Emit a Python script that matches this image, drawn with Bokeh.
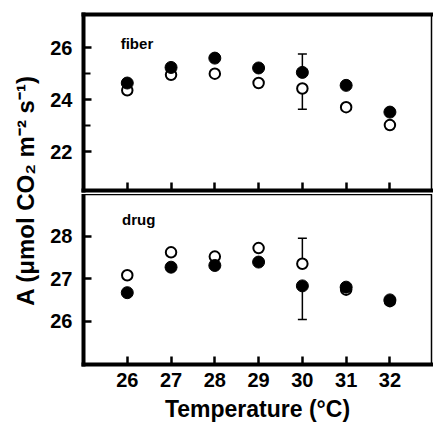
import math
from bokeh.plotting import figure
from bokeh.layouts import row, column
from bokeh.models import (Range1d, FixedTicker, LinearAxis, Label, Whisker, TeeHead,
                          ColumnDataSource, CustomLabelingPolicy)
from bokeh.embed import file_html
from bokeh.resources import INLINE

# ---- data ----
temps = [26, 27, 28, 29, 30, 31, 32]
fiber_filled = [24.64, 25.24, 25.60, 25.22, 25.05, 24.55, 23.52]
fiber_open = [24.36, 24.96, 25.00, 24.64, 24.43, 23.71, 23.02]
drug_filled = [26.67, 27.27, 27.31, 27.39, 26.83, 26.80, 26.50]
drug_open = [27.08, 27.62, 27.52, 27.72, 27.35, 26.74, 26.47]

err_temp = 30
fiber_filled_err = 0.71   # shown upward
fiber_open_err = 0.80     # shown downward
drug_open_err = 0.60      # shown upward
drug_filled_err = 0.79    # shown downward

top_yticks = [22, 24, 26]
top_yminor = [23, 25]
bot_yticks = [26, 27, 28]

x_title = "Temperature (°C)"
y_title = "A (μmol CO₂ m⁻² s⁻¹)"
panel_top_name = "fiber"
panel_bot_name = "drug"

FONT = "Liberation Sans"

x_range = Range1d(25, 32.95)


def style_axis(ax, ticker, labels=True, label_size="20px"):
    ax.ticker = ticker
    ax.axis_line_width = 4
    ax.axis_line_color = "black"
    ax.axis_line_cap = "square"
    ax.major_tick_in = 8
    ax.major_tick_out = 0
    ax.major_tick_line_width = 2.5
    ax.major_tick_line_color = "black"
    ax.minor_tick_in = 7
    ax.minor_tick_out = 0
    ax.minor_tick_line_width = 2
    ax.minor_tick_line_color = "black"
    if labels:
        ax.major_label_text_font = FONT
        ax.major_label_text_font_style = "bold"
        ax.major_label_text_font_size = label_size
        ax.major_label_text_color = "black"
    else:
        ax.major_label_policy = CustomLabelingPolicy(code="return []")
        ax.major_label_text_font_size = "1px"
        ax.major_label_standoff = 0


def base_fig(height, y_range, mb_top, mb_bottom):
    p = figure(width=393, height=height, x_range=x_range, y_range=y_range,
               output_backend="svg", toolbar_location=None,
               min_border_left=43, min_border_right=2,
               min_border_top=mb_top, min_border_bottom=mb_bottom)
    p.grid.visible = False
    p.outline_line_color = "black"
    p.outline_line_width = 1.5
    p.background_fill_color = "white"
    p.border_fill_color = "white"
    return p


def add_points(p, filled, opened):
    p.scatter(temps, opened, size=10.5, marker="circle", fill_color="white",
              line_color="black", line_width=2)
    p.scatter(temps, filled, size=12, marker="circle", fill_color="black",
              line_color="black", line_width=1)


def add_whisker(p, base, lo, hi, head_up):
    src = ColumnDataSource(dict(base=[base], lower=[lo], upper=[hi]))
    head = TeeHead(size=9, line_width=1.5, line_color="black")
    w = Whisker(source=src, base="base", lower="lower", upper="upper",
                dimension="height", line_width=1.5, line_color="black",
                upper_head=head if head_up else None,
                lower_head=None if head_up else head)
    p.add_layout(w)


i30 = temps.index(err_temp)

# ---- top panel (fiber) ----
top = base_fig(194, Range1d(20.5, 27.28), 14, 2)
style_axis(top.xaxis[0], FixedTicker(ticks=temps, minor_ticks=[]), labels=False)
style_axis(top.yaxis[0], FixedTicker(ticks=top_yticks, minor_ticks=top_yminor))
top.yaxis[0].major_label_standoff = 11
above = LinearAxis()
style_axis(above, FixedTicker(ticks=[], minor_ticks=[]), labels=False)
above.major_tick_in = 0
above.minor_tick_in = 0
top.add_layout(above, "above")

add_whisker(top, err_temp, fiber_filled[i30], fiber_filled[i30] + fiber_filled_err, True)
add_whisker(top, err_temp, fiber_open[i30] - fiber_open_err, fiber_open[i30], False)
add_points(top, fiber_filled, fiber_open)
top.add_layout(Label(x=25.85, y=26.18, text=panel_top_name, text_font=FONT,
                     text_font_style="bold", text_font_size="15px", text_color="black",
                     text_baseline="alphabetic", text_align="left"))

# ---- bottom panel (drug) ----
bot = base_fig(232, Range1d(24.98, 28.98), 0, 62)
style_axis(bot.xaxis[0], FixedTicker(ticks=temps, minor_ticks=[]))
bot.xaxis[0].major_label_standoff = 8
bot.xaxis[0].axis_label = x_title
bot.xaxis[0].axis_label_text_font = FONT
bot.xaxis[0].axis_label_text_font_style = "bold"
bot.xaxis[0].axis_label_text_font_size = "23px"
bot.xaxis[0].axis_label_text_color = "black"
bot.xaxis[0].axis_label_standoff = 6
style_axis(bot.yaxis[0], FixedTicker(ticks=bot_yticks, minor_ticks=[]))
bot.yaxis[0].major_label_standoff = 11

add_whisker(bot, err_temp, drug_open[i30], drug_open[i30] + drug_open_err, True)
add_whisker(bot, err_temp, drug_filled[i30] - drug_filled_err, drug_filled[i30], False)
add_points(bot, drug_filled, drug_open)
bot.add_layout(Label(x=25.88, y=28.39, text=panel_bot_name, text_font=FONT,
                     text_font_style="bold", text_font_size="15px", text_color="black",
                     text_baseline="alphabetic", text_align="left"))

# ---- y title strip ----
tfig = figure(width=40, height=426, x_range=Range1d(0, 40), y_range=Range1d(0, 426),
              output_backend="svg", toolbar_location=None,
              x_axis_location=None, y_axis_location=None, min_border=0)
tfig.grid.visible = False
tfig.outline_line_color = None
tfig.add_layout(Label(x=25, y=236, text=y_title, angle=math.pi / 2,
                      text_font=FONT, text_font_style="bold", text_font_size="24px",
                      text_align="center", text_baseline="middle", text_color="black"))

layout = row(tfig, column(top, bot))

open("out.html", "w").write(file_html(layout, INLINE))
